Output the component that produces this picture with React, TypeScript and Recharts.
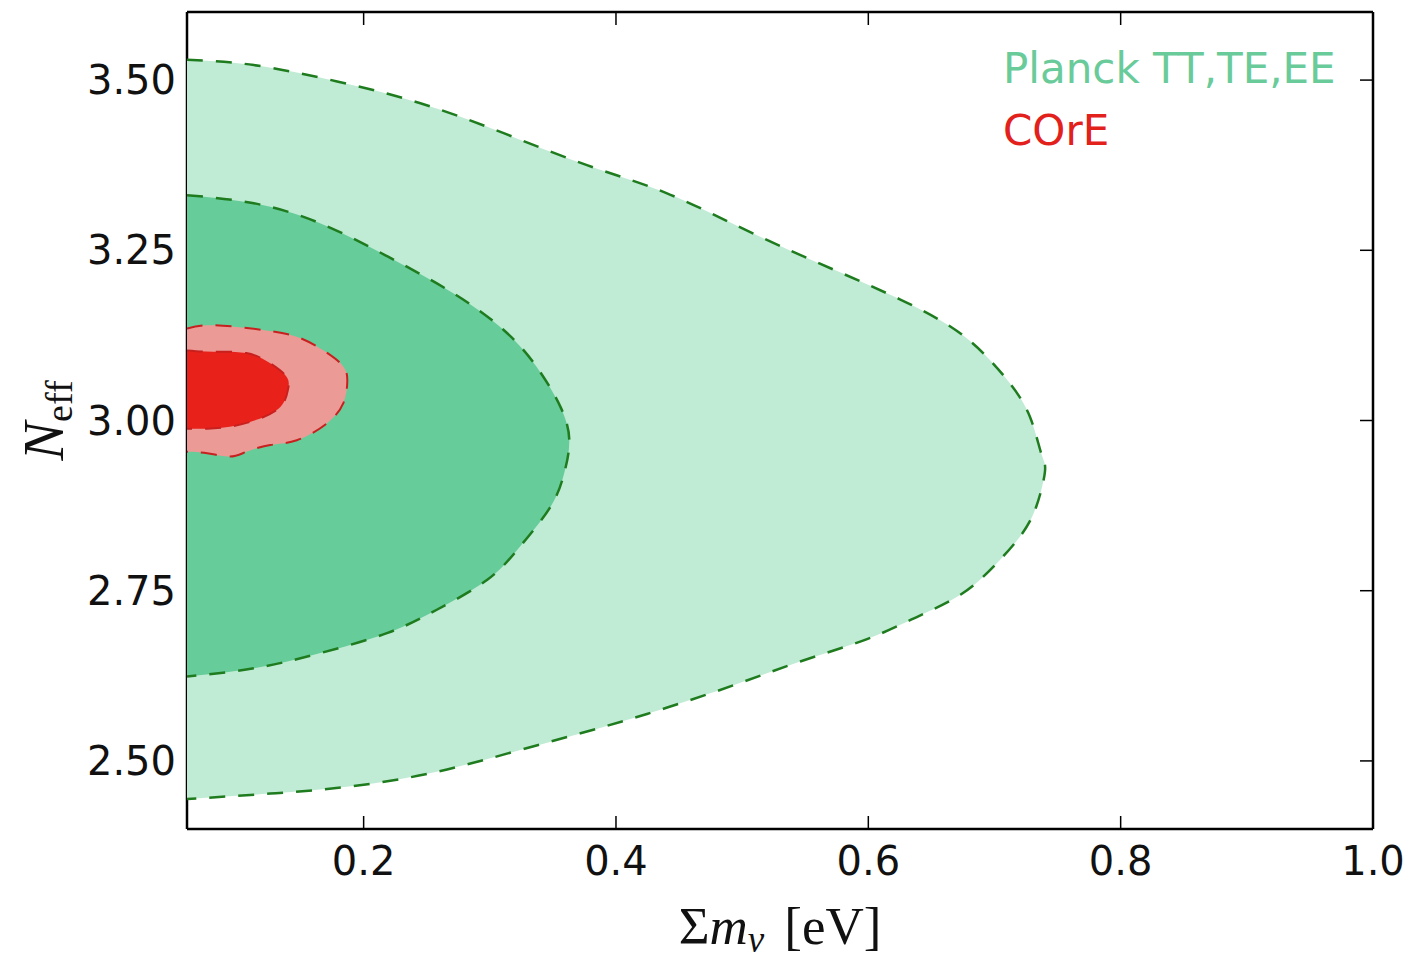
import { ComposedChart, Scatter, XAxis, YAxis } from "recharts";

// axis setup
const X_DOMAIN: [number, number] = [0.06, 1.0];
const Y_DOMAIN: [number, number] = [2.4, 3.6];
const X_TICKS = [0.2, 0.4, 0.6, 0.8, 1.0];
const Y_TICKS = [2.5, 2.75, 3.0, 3.25, 3.5];

// contour outlines, [sum m_nu, N_eff], traced clockwise from the left edge
const PLANCK_95: [number, number][] = [
  [0.06, 3.53], [0.113, 3.522], [0.179, 3.498], [0.245, 3.466], [0.311, 3.422],
  [0.377, 3.375], [0.44, 3.334], [0.506, 3.277], [0.572, 3.222], [0.625, 3.178],
  [0.665, 3.138], [0.691, 3.099], [0.712, 3.055], [0.728, 3.006], [0.737, 2.952],
  [0.74, 2.925], [0.733, 2.873], [0.72, 2.829], [0.699, 2.785], [0.673, 2.744],
  [0.638, 2.711], [0.599, 2.679], [0.546, 2.646], [0.493, 2.611], [0.44, 2.578],
  [0.39, 2.55], [0.324, 2.516], [0.258, 2.484], [0.192, 2.463], [0.126, 2.452],
  [0.06, 2.444],
];

const PLANCK_68: [number, number][] = [
  [0.06, 3.331], [0.113, 3.319], [0.165, 3.29], [0.219, 3.241], [0.271, 3.187],
  [0.311, 3.133], [0.337, 3.079], [0.356, 3.02], [0.363, 2.971], [0.359, 2.923],
  [0.348, 2.873], [0.324, 2.815], [0.298, 2.766], [0.258, 2.722], [0.219, 2.688],
  [0.165, 2.658], [0.113, 2.636], [0.06, 2.624],
];

const CORE_95: [number, number][] = [
  [0.06, 3.135], [0.081, 3.14], [0.12, 3.133], [0.147, 3.123], [0.168, 3.103],
  [0.184, 3.079], [0.187, 3.055], [0.184, 3.026], [0.171, 2.996], [0.147, 2.971],
  [0.126, 2.964], [0.107, 2.954], [0.094, 2.947], [0.076, 2.952], [0.06, 2.954],
];

const CORE_68: [number, number][] = [
  [0.06, 3.103], [0.081, 3.101], [0.107, 3.099], [0.126, 3.084], [0.139, 3.064],
  [0.14, 3.045], [0.134, 3.02], [0.115, 3.001], [0.094, 2.991], [0.076, 2.988],
  [0.06, 2.988],
];

const LEGEND = [
  { name: "Planck TT,TE,EE", color: "#6acb9a" },
  { name: "COrE", color: "#e3211c" },
];

// the 68% ones sit on the top/right axes so those frame axes get drawn too
const CONTOURS = [
  { key: "planck95", pts: PLANCK_95, fill: "#c0ebd5", edge: "#1e7b1e", width: 2.5, xId: 0, yId: 0 },
  { key: "planck68", pts: PLANCK_68, fill: "#66cc99", edge: "#1e7b1e", width: 2.5, xId: "top", yId: "right" },
  { key: "core95", pts: CORE_95, fill: "#eb9a96", edge: "#c8201e", width: 2, xId: 0, yId: 0 },
  { key: "core68", pts: CORE_68, fill: "#e8221b", edge: "#c8201e", width: 2, xId: "top", yId: "right" },
];

const toPoints = (pts: [number, number][]) => pts.map(([x, y]) => ({ x, y }));

const W = 1407;
const H = 957;
const AXIS = { stroke: "#000", strokeWidth: 2.5 };
const TICK_LINE = { stroke: "#000", strokeWidth: 1.5 };
const TICK_FONT = { fontSize: 40, fill: "#111", fontFamily: "DejaVu Sans" };

function XAxisTitle({ viewBox }: any) {
  const cx = viewBox.x + viewBox.width / 2;
  return (
    <text x={cx} y={viewBox.y + 115} textAnchor="middle" fontFamily="Liberation Serif" fontSize={53} fill="#111">
      <tspan>Σ</tspan>
      <tspan fontStyle="italic">m</tspan>
      <tspan fontStyle="italic" fontSize={37} dy={8}>ν</tspan>
      <tspan dx={20} dy={-8}>[eV]</tspan>
    </text>
  );
}

function YAxisTitle({ viewBox }: any) {
  const cx = viewBox.x + 55;
  const cy = viewBox.y + viewBox.height / 2;
  return (
    <text
      x={cx}
      y={cy}
      transform={`rotate(-90 ${cx} ${cy})`}
      textAnchor="middle"
      fontFamily="Liberation Serif"
      fontSize={58}
      fill="#111"
    >
      <tspan fontStyle="italic">N</tspan>
      <tspan fontSize={38} dy={9}>eff</tspan>
    </text>
  );
}

const noDot = () => <g />;

export default function App() {
  return (
    <div style={{ position: "relative", width: W, height: H }}>
      <ComposedChart width={W} height={H} margin={{ top: 3, right: 41, bottom: 0, left: 0 }}>
        {CONTOURS.map((c) => (
          <Scatter
            key={c.key}
            data={toPoints(c.pts)}
            dataKey="y"
            xAxisId={c.xId}
            yAxisId={c.yId}
            shape={noDot}
            line={{ fill: c.fill, stroke: c.edge, strokeWidth: c.width, strokeDasharray: "16 13" }}
            lineJointType="natural"
            legendType="none"
            isAnimationActive={false}
          />
        ))}
        <XAxis
          type="number"
          dataKey="x"
          domain={X_DOMAIN}
          ticks={X_TICKS}
          allowDataOverflow
          height={136}
          tickFormatter={(v: number) => v.toFixed(1)}
          tick={TICK_FONT}
          tickSize={-13}
          tickMargin={31}
          axisLine={AXIS}
          tickLine={TICK_LINE}
          label={<XAxisTitle />}
        />
        <XAxis
          xAxisId="top"
          orientation="top"
          type="number"
          dataKey="x"
          domain={X_DOMAIN}
          ticks={X_TICKS}
          allowDataOverflow
          height={1}
          tickFormatter={() => ""}
          tickSize={-13}
          axisLine={AXIS}
          tickLine={TICK_LINE}
        />
        <YAxis
          type="number"
          dataKey="y"
          domain={Y_DOMAIN}
          ticks={Y_TICKS}
          allowDataOverflow
          width={179}
          tickFormatter={(v: number) => v.toFixed(2)}
          tick={TICK_FONT}
          tickSize={-13}
          tickMargin={24}
          axisLine={AXIS}
          tickLine={TICK_LINE}
          label={<YAxisTitle />}
        />
        <YAxis
          yAxisId="right"
          orientation="right"
          type="number"
          dataKey="y"
          domain={Y_DOMAIN}
          ticks={Y_TICKS}
          allowDataOverflow
          width={1}
          tickFormatter={() => ""}
          tickSize={-13}
          axisLine={AXIS}
          tickLine={TICK_LINE}
        />
      </ComposedChart>
      <svg width={W} height={H} style={{ position: "absolute", left: 0, top: 0, pointerEvents: "none" }}>
        {LEGEND.map((l, i) => (
          <text key={l.name} x={995} y={75 + i * 62} fontFamily="DejaVu Sans" fontSize={42} fill={l.color}>
            {l.name}
          </text>
        ))}
      </svg>
    </div>
  );
}
